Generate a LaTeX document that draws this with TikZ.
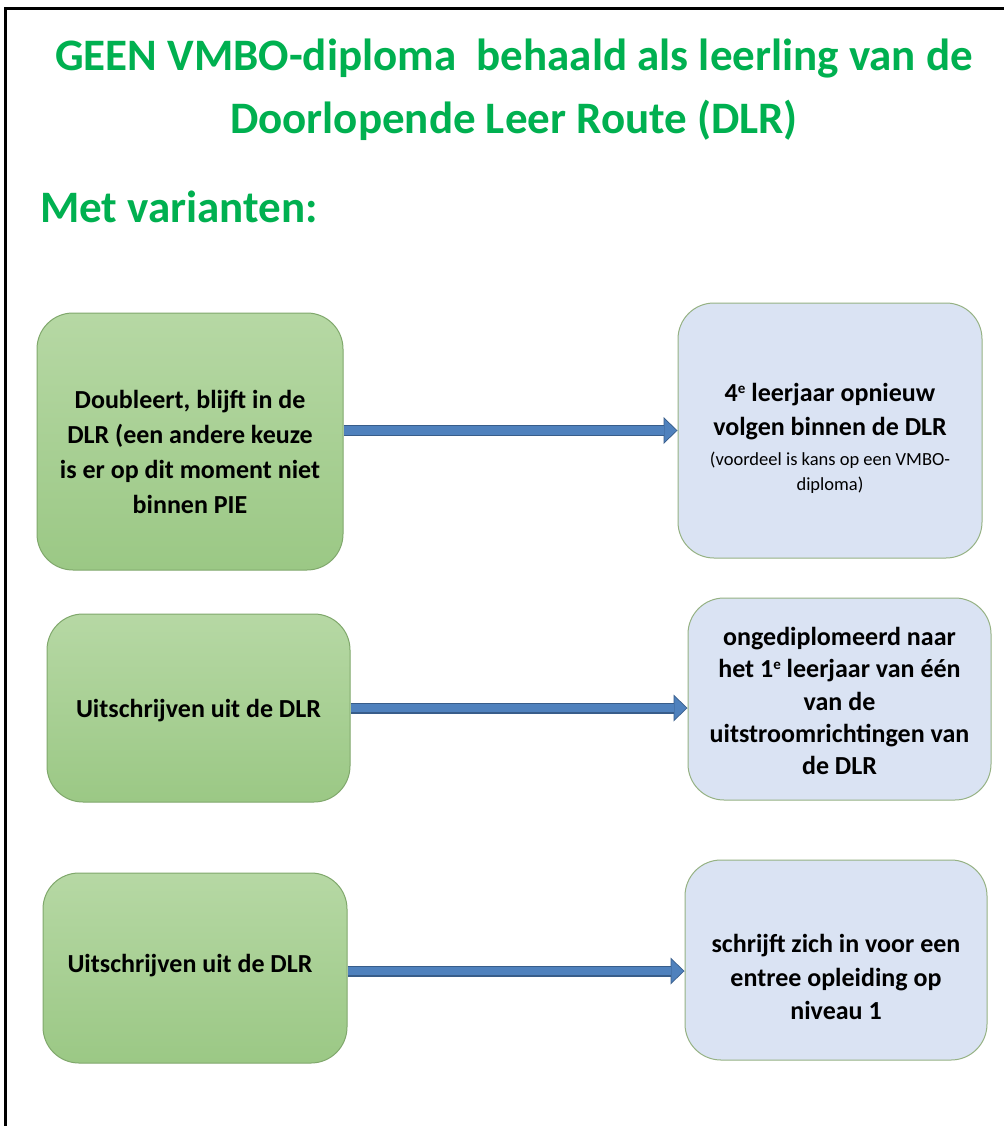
\documentclass[tikz,border=0pt]{standalone}
\usepackage{fontspec}
\setmainfont{Carlito}
\usetikzlibrary{arrows.meta}
\definecolor{titlegreen}{RGB}{0,176,80}
\definecolor{greentop}{RGB}{182,216,164}
\definecolor{greenbot}{RGB}{155,200,133}
\definecolor{greenedge}{RGB}{128,168,108}
\definecolor{bluefill}{RGB}{218,227,243}
\definecolor{blueedge}{RGB}{150,178,132}
\definecolor{arrowfill}{RGB}{79,129,189}
\definecolor{arrowline}{RGB}{56,93,138}
\newcommand{\smallfnt}{\mdseries\fontsize{18.5}{22}\selectfont}
\newcommand{\supE}{\raisebox{8.5pt}{\fontsize{15}{15}\selectfont e}}
\tikzset{
  titletext/.style={font=\bfseries\fontsize{45}{63}\selectfont, text=titlegreen, align=center, inner sep=0pt},
  greenbox/.style={rounded corners=36pt, draw=greenedge, line width=1pt, top color=greentop, bottom color=greenbot, inner sep=0pt},
  bluebox/.style={rounded corners=36pt, draw=blueedge, line width=1pt, fill=bluefill, inner sep=0pt},
  boxtext/.style={font=\bfseries\fontsize{26}{34}\selectfont, align=center, inner sep=0pt},
  arrowedge/.style={line width=11pt, draw=arrowline, -{Triangle[length=14pt,width=27pt,line width=0pt]}},
  arrowbody/.style={line width=8.5pt, draw=arrowfill, shorten >=1.2pt, -{Triangle[length=12pt,width=23pt,line width=0pt]}},
  frameline/.style={line width=3pt, draw=black}
}
\begin{document}
\begin{tikzpicture}[x=1pt,y=-1pt]
\useasboundingbox (0,0) rectangle (1004,1126);
\fill[white] (0,0) rectangle (1004,1126);
% frame (left and top edges)
\coordinate (fbl) at (5.5,1126);
\coordinate (ftl) at (5.5,8.5);
\coordinate (ftr) at (1004,8.5);
\draw[frameline] (fbl) -- (ftl) -- (ftr);

% titles
\node[titletext] (title) at (514,90) {GEEN VMBO-diploma\ \ behaald als leerling van de\\Doorlopende Leer Route (DLR)};
\node[titletext, anchor=base west] (sub) at (40,222) {Met varianten:};

% boxes
\node[greenbox, minimum width=306pt, minimum height=257pt] (b1) at (190,441.5) {};
\node[boxtext, font=\bfseries\fontsize{26}{35}\selectfont] (t1) at ([yshift=-10pt]b1.center) {Doubleert, blijft in de\\DLR (een andere keuze\\is er op dit moment niet\\binnen PIE};

\node[bluebox, minimum width=304pt, minimum height=255pt] (b2) at (830,430.5) {};
\node[boxtext] (t2) at ([yshift=-8pt]b2.center) {4\supE{} leerjaar opnieuw\\volgen binnen de DLR\\[-4pt]{\smallfnt (voordeel is kans op een VMBO-}\\[-9pt]{\smallfnt diploma)}};

\node[greenbox, minimum width=303pt, minimum height=188pt] (b3) at (198.5,708) {};
\node[boxtext] (t3) at ([yshift=-3pt]b3.center) {Uitschrijven uit de DLR};

\node[bluebox, minimum width=303pt, minimum height=202pt] (b4) at (839.5,699) {};
\node[boxtext, font=\bfseries\fontsize{26}{32.2}\selectfont] (t4) at ([yshift=-2pt]b4.center) {ongediplomeerd naar\\het 1\supE{} leerjaar van één\\van de\\uitstroomrichtingen van\\de DLR};

\node[greenbox, minimum width=304pt, minimum height=190pt] (b5) at (195,968) {};
\node[boxtext] (t5) at ([xshift=-5pt,yshift=2pt]b5.center) {Uitschrijven uit de DLR};

\node[bluebox, minimum width=302pt, minimum height=200pt] (b6) at (836,960) {};
\node[boxtext, font=\bfseries\fontsize{26}{33.5}\selectfont] (t6) at ([yshift=-17pt]b6.center) {schrijft zich in voor een\\entree opleiding op\\niveau 1};

% arrows
\draw[arrowedge] (b1.east |- b2.west) -- (b2.west);
\draw[arrowbody] (b1.east |- b2.west) -- (b2.west);
\draw[arrowedge] (b3.east) -- (b3.east -| b4.west);
\draw[arrowbody] (b3.east) -- (b3.east -| b4.west);
\draw[arrowedge] ([yshift=-3pt]b5.east) -- ([yshift=-3pt]b5.east -| b6.west);
\draw[arrowbody] ([yshift=-3pt]b5.east) -- ([yshift=-3pt]b5.east -| b6.west);
\end{tikzpicture}
\end{document}
